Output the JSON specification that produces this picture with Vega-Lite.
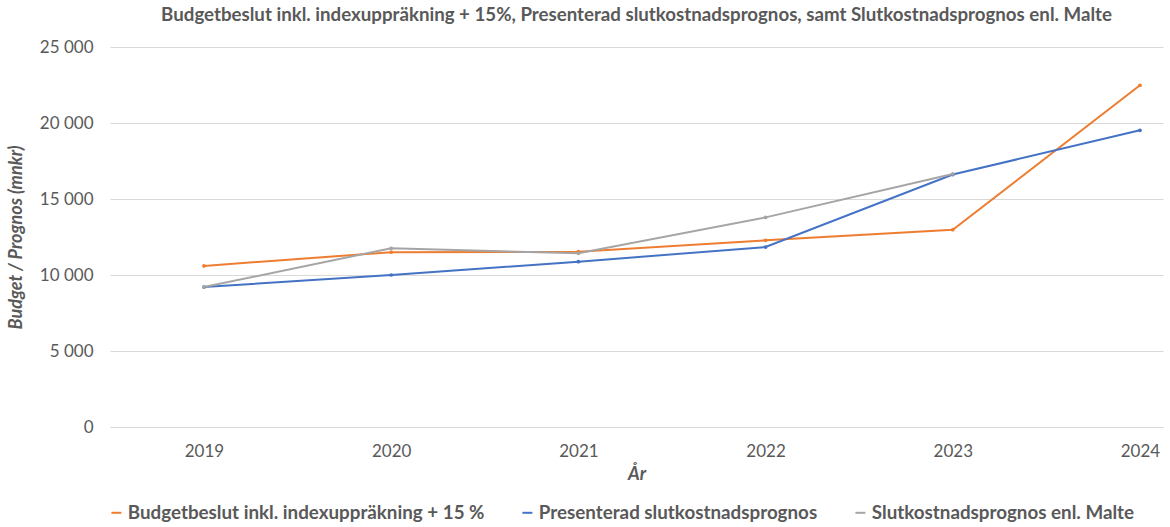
{
  "$schema": "https://vega.github.io/schema/vega-lite/v6.json",
  "width": 1053,
  "height": 380,
  "autosize": {"type": "none"},
  "padding": {"left": 110, "top": 47, "right": 7, "bottom": 100},
  "background": "white",
  "config": {
    "locale": {"number": {"decimal": ",", "thousands": " ", "grouping": [3], "currency": ["", " kr"]}},
    "view": {"stroke": null},
    "font": "Lato"
  },
  "title": {
    "text": "Budgetbeslut inkl. indexuppräkning + 15%, Presenterad slutkostnadsprognos, samt Slutkostnadsprognos enl. Malte",
    "font": "Lato",
    "fontSize": 18.7,
    "fontWeight": "bold",
    "color": "#595959",
    "anchor": "middle",
    "offset": 13
  },
  "data": {
    "values": [
      {"year": 2019, "serie": "Budgetbeslut inkl. indexuppräkning + 15 %", "value": 10600},
      {"year": 2020, "serie": "Budgetbeslut inkl. indexuppräkning + 15 %", "value": 11500},
      {"year": 2021, "serie": "Budgetbeslut inkl. indexuppräkning + 15 %", "value": 11530},
      {"year": 2022, "serie": "Budgetbeslut inkl. indexuppräkning + 15 %", "value": 12280},
      {"year": 2023, "serie": "Budgetbeslut inkl. indexuppräkning + 15 %", "value": 12980},
      {"year": 2024, "serie": "Budgetbeslut inkl. indexuppräkning + 15 %", "value": 22480},
      {"year": 2019, "serie": "Presenterad slutkostnadsprognos", "value": 9210},
      {"year": 2020, "serie": "Presenterad slutkostnadsprognos", "value": 10000},
      {"year": 2021, "serie": "Presenterad slutkostnadsprognos", "value": 10875},
      {"year": 2022, "serie": "Presenterad slutkostnadsprognos", "value": 11840},
      {"year": 2023, "serie": "Presenterad slutkostnadsprognos", "value": 16610},
      {"year": 2024, "serie": "Presenterad slutkostnadsprognos", "value": 19520},
      {"year": 2019, "serie": "Slutkostnadsprognos enl. Malte", "value": 9210},
      {"year": 2020, "serie": "Slutkostnadsprognos enl. Malte", "value": 11760},
      {"year": 2021, "serie": "Slutkostnadsprognos enl. Malte", "value": 11430},
      {"year": 2022, "serie": "Slutkostnadsprognos enl. Malte", "value": 13790},
      {"year": 2023, "serie": "Slutkostnadsprognos enl. Malte", "value": 16650}
    ]
  },
  "encoding": {
    "x": {
      "field": "year",
      "type": "quantitative",
      "scale": {"domain": [2018.498, 2024.123], "nice": false, "zero": false},
      "axis": {
        "values": [2019, 2020, 2021, 2022, 2023, 2024],
        "format": "d",
        "grid": false,
        "ticks": false,
        "domainColor": "#D9D9D9",
        "labelColor": "#595959",
        "labelFontSize": 17,
        "labelFont": "Lato",
        "labelPadding": 16,
        "title": "År",
        "titleFont": "Lato",
        "titleFontSize": 18,
        "titleFontStyle": "italic",
        "titleFontWeight": "bold",
        "titleColor": "#595959",
        "titlePadding": 6
      }
    },
    "y": {
      "field": "value",
      "type": "quantitative",
      "scale": {"domain": [0, 25000], "nice": false},
      "axis": {
        "values": [0, 5000, 10000, 15000, 20000, 25000],
        "format": ",d",
        "domain": false,
        "ticks": false,
        "gridColor": "#D9D9D9",
        "labelColor": "#595959",
        "labelFontSize": 17,
        "labelFont": "Lato",
        "labelPadding": 17,
        "title": "Budget / Prognos (mnkr)",
        "titleFont": "Lato",
        "titleFontSize": 18,
        "titleFontStyle": "italic",
        "titleFontWeight": "bold",
        "titleColor": "#595959",
        "titlePadding": 14
      }
    },
    "color": {
      "field": "serie",
      "type": "nominal",
      "scale": {
        "domain": ["Budgetbeslut inkl. indexuppräkning + 15 %", "Presenterad slutkostnadsprognos", "Slutkostnadsprognos enl. Malte"],
        "range": ["#ED7D31", "#4472C4", "#A5A5A5"]
      },
      "legend": {
        "orient": "none",
        "legendX": -3,
        "legendY": 456,
        "direction": "horizontal",
        "title": null,
        "symbolType": "stroke",
        "symbolSize": 100,
        "symbolStrokeWidth": 2,
        "labelFontSize": 18.8,
        "labelFont": "Lato",
        "labelFontWeight": "bold",
        "labelColor": "#595959",
        "labelLimit": 500,
        "columnPadding": 33,
        "labelOffset": 2
      }
    }
  },
  "layer": [
    {"mark": {"type": "line", "strokeWidth": 2}},
    {"mark": {"type": "point", "filled": true, "size": 14, "opacity": 1}}
  ]
}
